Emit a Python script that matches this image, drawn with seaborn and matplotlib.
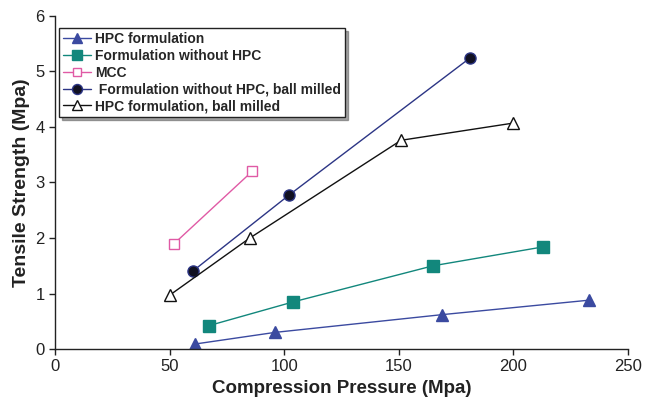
import seaborn as sns
import matplotlib.pyplot as plt
import pandas as pd

# values
hpc_x = [61, 96, 169, 233]
hpc_y = [0.09, 0.30, 0.62, 0.88]
nohpc_x = [67, 104, 165, 213]
nohpc_y = [0.42, 0.85, 1.50, 1.84]
mcc_x = [52, 86]
mcc_y = [1.90, 3.20]
nohpc_bm_x = [60, 102, 181]
nohpc_bm_y = [1.40, 2.77, 5.24]
hpc_bm_x = [50, 85, 151, 200]
hpc_bm_y = [0.97, 2.00, 3.76, 4.07]

labels = ['HPC formulation', 'Formulation without HPC', 'MCC',
          ' Formulation without HPC, ball milled', 'HPC formulation, ball milled']

sns.set_style('ticks')
plt.rcParams['font.family'] = ['Liberation Sans', 'DejaVu Sans']

fig = plt.figure(figsize=(6.48, 3.98), dpi=100)
ax = fig.add_axes([0.085, 0.123, 0.884, 0.837])

series = [
    (hpc_x, hpc_y, dict(color='#3b4aa0', marker='^', markersize=8,
                        markerfacecolor='#3b4aa0', markeredgecolor='#3b4aa0')),
    (nohpc_x, nohpc_y, dict(color='#12877c', marker='s', markersize=8,
                            markerfacecolor='#12877c', markeredgecolor='#12877c')),
    (mcc_x, mcc_y, dict(color='#e05aa5', marker='s', markersize=7,
                        markerfacecolor='white', markeredgecolor='#e05aa5')),
    (nohpc_bm_x, nohpc_bm_y, dict(color='#2c3585', marker='o', markersize=8,
                                  markerfacecolor='#111122', markeredgecolor='#2c3585')),
    (hpc_bm_x, hpc_bm_y, dict(color='#111111', marker='^', markersize=8,
                              markerfacecolor='white', markeredgecolor='#111111')),
]

for (xs, ys, style), lab in zip(series, labels):
    df = pd.DataFrame({'x': xs, 'y': ys})
    sns.lineplot(data=df, x='x', y='y', ax=ax, sort=False, linewidth=1,
                 label=lab, markeredgewidth=1, **style)

ax.set_xlim(0, 250)
ax.set_ylim(0, 6)
ax.set_xticks(range(0, 251, 50))
ax.set_yticks(range(0, 7))
ax.tick_params(labelsize=12, length=4, width=1, direction='out', colors='#222222')
for side in ['top', 'right']:
    ax.spines[side].set_visible(False)
for side in ['left', 'bottom']:
    ax.spines[side].set_color('#222222')
    ax.spines[side].set_linewidth(1)

ax.set_xlabel('Compression Pressure (Mpa)', fontsize=13.5, fontweight='bold', color='#222222')
ax.set_ylabel('Tensile Strength (Mpa)', fontsize=14, fontweight='bold', color='#222222')

leg = ax.legend(loc='upper left', bbox_to_anchor=(-0.005, 0.985),
                prop={'weight': 'bold', 'size': 10}, frameon=True, fancybox=False,
                shadow=True, handlelength=2.0, labelspacing=0.2, markerscale=0.9,
                borderpad=0.3, handletextpad=0.3)
leg.get_frame().set_edgecolor('#222222')
leg.get_frame().set_linewidth(1)

fig.savefig('out.png', dpi=100)
